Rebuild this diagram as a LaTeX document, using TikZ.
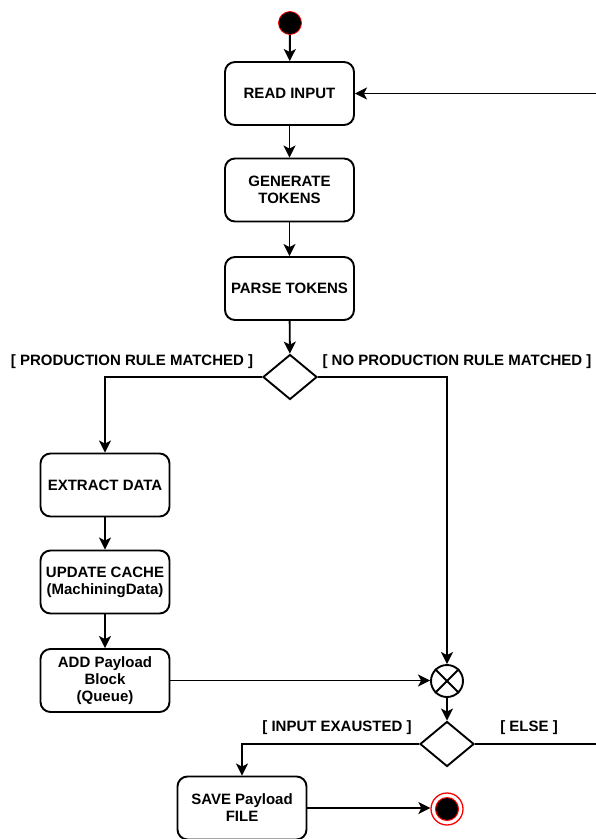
\documentclass[tikz,border=0pt]{standalone}
\usepackage{fontspec}
\setmainfont{Liberation Sans}
\usetikzlibrary{arrows.meta,shapes.geometric}
\begin{document}
\begin{tikzpicture}[x=1pt,y=-1pt,
  every node/.style={font=\fontsize{15}{17}\selectfont\bfseries},
  act/.style={draw,line width=1.9pt,rounded corners=10pt,minimum width=129pt,
    minimum height=63pt,align=center,inner sep=2pt},
  choice/.style={draw,diamond,line width=1.9pt,minimum width=54pt,
    minimum height=45pt,inner sep=0pt},
  flow/.style={line width=1.9pt,-{Stealth[length=12pt,width=12pt,inset=3pt]}},
  guard/.style={inner sep=0pt}]
\useasboundingbox (0,0) rectangle (596,839);

% initial and final states
\node[circle,fill=black,draw=red,line width=0.8pt,minimum size=23pt,inner sep=0pt]
  (start) at (290,23) {};
\node[circle,draw=red,line width=1.3pt,minimum size=32pt,inner sep=0pt]
  (final) at (447,809) {};
\node[circle,fill=black,draw=red,line width=1pt,minimum size=23pt,inner sep=0pt]
  (finaldot) at (447,809) {};

% actions
\node[act] (read)    at (289.5,93.5) {READ INPUT};
\node[act] (gen)     at (289.5,190)  {GENERATE\\TOKENS};
\node[act] (parse)   at (289.5,288.5){PARSE TOKENS};
\node[act] (extract) at (105,485)    {EXTRACT DATA};
\node[act] (update)  at (105,582)    {UPDATE CACHE\\(MachiningData)};
\node[act] (add)     at (105,680.5)  {ADD Payload\\Block\\(Queue)};
\node[act] (save)    at (242,808)    {SAVE Payload\\FILE};

% decisions and merge
\node[choice] (d1) at (290,377) {};
\node[choice] (d2) at (447,744) {};
\node[circle,draw,line width=1.9pt,minimum size=32pt,inner sep=0pt]
  (merge) at (447,681) {};
\draw[line width=1.9pt] (merge.north east) -- (merge.south west)
  (merge.north west) -- (merge.south east);

% guards
\node[guard] (g1) at (132,362) {[ PRODUCTION RULE MATCHED ]};
\node[guard] (g2) at (457,362) {[ NO PRODUCTION RULE MATCHED ]};
\node[guard] (g3) at (337,728) {[ INPUT EXAUSTED ]};
\node[guard] (g4) at (529,728) {[ ELSE ]};

% control flow
\draw[flow] (start) -- (read);
\draw[flow] (read) -- (gen);
\draw[flow] (gen) -- (parse);
\draw[flow] (parse) -- (d1);
\draw[flow] (d1.west) -| (extract.north);
\draw[flow] (d1.east) -| (merge.north);
\draw[flow] (extract) -- (update);
\draw[flow] (update) -- (add);
\draw[flow] (add.east) -- (add.east -| merge.west);
\draw[flow] (merge) -- (d2);
\draw[flow] (d2.west) -| (save.north);
\draw[flow] (save.east) -- (save.east -| final.west);
\coordinate (loop) at (614,744);
\draw[flow] (d2.east) -- (loop) |- (read.east);
\end{tikzpicture}
\end{document}
